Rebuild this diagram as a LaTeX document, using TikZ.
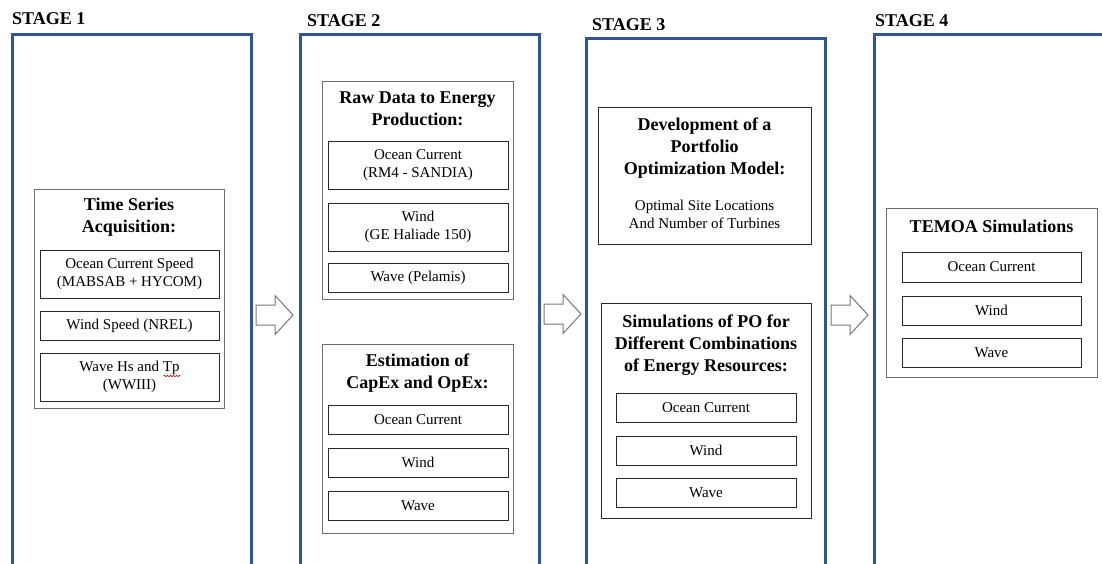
\documentclass[tikz,border=0pt]{standalone}
\usepackage{fontspec}
\setmainfont{Liberation Serif}
\usetikzlibrary{decorations.pathmorphing}
\definecolor{stageblue}{RGB}{47,85,151}
\definecolor{groupgray}{RGB}{110,110,110}
\definecolor{itemgray}{RGB}{40,40,40}
\definecolor{arrowgray}{RGB}{120,120,120}
\begin{document}
\begin{tikzpicture}[x=1pt,y=-1pt,
  stageframe/.style={draw=stageblue, line width=2.5pt, inner sep=0pt, anchor=north west,
    minimum width=239pt, minimum height=600pt},
  stagelbl/.style={font=\fontsize{18}{22}\selectfont\bfseries, anchor=base west, inner sep=0pt},
  group/.style={draw=groupgray, line width=1.1pt, inner sep=0pt, anchor=north west},
  item/.style={draw=itemgray, line width=0.9pt, inner sep=0pt, align=center,
    font=\fontsize{15}{18}\selectfont, minimum width=180pt},
  head/.style={font=\fontsize{18}{22}\selectfont\bfseries, align=center, inner sep=0pt},
  body/.style={font=\fontsize{15}{18}\selectfont, align=center, inner sep=0pt},
  blockarrow/.style={draw=arrowgray, line width=1pt, fill=white, line join=miter}
]
\useasboundingbox (0,0) rectangle (1102,563);

% stage frames, open at the bottom of the page
\begin{scope}
  \clip (0,0) rectangle (1102,563);
  \node[stageframe] (f1) at (11,33) {};
  \node[stageframe] (f2) at (299,33) {};
  \node[stageframe] (f3) at (585,37) {};
  \node[stageframe, minimum width=260pt] (f4) at (873,33) {};
\end{scope}

\node[stagelbl] (s1) at (12,24) {STAGE 1};
\node[stagelbl] (s2) at (307,26) {STAGE 2};
\node[stagelbl] (s3) at (592,30) {STAGE 3};
\node[stagelbl] (s4) at (875,26) {STAGE 4};

% ---- Stage 1: time series acquisition
\node[group, minimum width=190pt, minimum height=219pt] (g1) at (34,189) {};
\node[head] (g1t) at (129,217) {Time Series\\Acquisition:};
\node[item, minimum width=179pt, minimum height=48pt] (g1a) at (129.5,274) {Ocean Current Speed\\(MABSAB + HYCOM)};
\node[item, minimum width=179pt, minimum height=29pt] (g1b) at (129.5,325.5) {Wind Speed (NREL)};
\node[item, minimum width=179pt, minimum height=48pt] (g1c) at (129.5,377) {Wave Hs and Tp\\(WWIII)};
% spell-check underline beneath "Tp"
\draw[red!80!black, line width=0.6pt, decorate,
  decoration={snake, amplitude=0.7pt, segment length=3pt}]
  ([xshift=34pt,yshift=1pt]g1c.center) -- ([xshift=51pt,yshift=1pt]g1c.center);

% ---- Stage 2: energy production and costs
\node[group, minimum width=191pt, minimum height=218pt] (g2) at (322,81) {};
\node[head] (g2t) at (417.5,109) {Raw Data to Energy\\Production:};
\node[item, minimum height=48pt] (g2a) at (418,165) {Ocean Current\\(RM4 - SANDIA)};
\node[item, minimum height=48pt] (g2b) at (418,227) {Wind\\(GE Haliade 150)};
\node[item, minimum height=29pt] (g2c) at (418,277.5) {Wave (Pelamis)};

\node[group, minimum width=191pt, minimum height=189pt] (g3) at (322,344) {};
\node[head] (g3t) at (417.5,373) {Estimation of\\CapEx and OpEx:};
\node[item, minimum height=29pt] (g3a) at (418,419.5) {Ocean Current};
\node[item, minimum height=29pt] (g3b) at (418,462.5) {Wind};
\node[item, minimum height=29pt] (g3c) at (418,505.5) {Wave};

% ---- Stage 3: portfolio optimization
\node[group, draw=itemgray, minimum width=213pt, minimum height=137pt] (g4) at (598,107) {};
\node[head] (g4t) at (704.5,148) {Development of a\\Portfolio\\Optimization Model:};
\node[body] (g4b) at (704.5,214) {Optimal Site Locations\\And Number of Turbines};

\node[group, draw=itemgray, minimum width=210pt, minimum height=215pt] (g5) at (601,303) {};
\node[head] (g5t) at (706,345) {Simulations of PO for\\Different Combinations\\of Energy Resources:};
\node[item, minimum height=29pt] (g5a) at (706,407.5) {Ocean Current};
\node[item, minimum height=29pt] (g5b) at (706,450.5) {Wind};
\node[item, minimum height=29pt] (g5c) at (706,492.5) {Wave};

% ---- Stage 4: TEMOA
\node[group, minimum width=211pt, minimum height=169pt] (g6) at (886,208) {};
\node[head] (g6t) at (991.5,226) {TEMOA Simulations};
\node[item, minimum width=179pt, minimum height=30pt] (g6a) at (991.5,267) {Ocean Current};
\node[item, minimum width=179pt, minimum height=29pt] (g6b) at (991.5,310.5) {Wind};
\node[item, minimum width=179pt, minimum height=29pt] (g6c) at (991.5,352.5) {Wave};

% ---- block arrows between stages
\foreach \name/\x/\y in {a1/256/315, a2/544/314, a3/831/315} {
  \coordinate (\name) at (\x,\y);
  \draw[blockarrow] (\name) ++(0,-10) -- ++(19,0) -- ++(0,-9.5) -- ++(18,19.5)
    -- ++(-18,19.5) -- ++(0,-9.5) -- ++(-19,0) -- cycle;
}
\end{tikzpicture}
\end{document}
